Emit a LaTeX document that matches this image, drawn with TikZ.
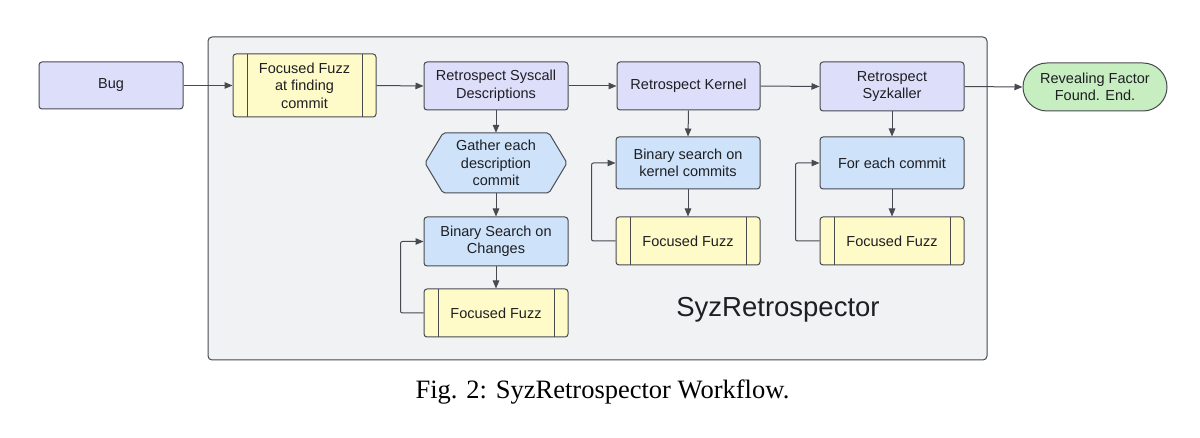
\documentclass[tikz,border=0pt]{standalone}
\usepackage{fontspec}
\setmainfont{Liberation Serif}
\newfontfamily\sansf{Liberation Sans}
\usetikzlibrary{arrows.meta}
\definecolor{lav}{RGB}{221,222,250}
\definecolor{lblue}{RGB}{206,227,250}
\definecolor{lyel}{RGB}{255,251,200}
\definecolor{lgreen}{RGB}{199,238,192}
\definecolor{cont}{RGB}{241,242,244}
\definecolor{edge}{RGB}{72,74,82}
\definecolor{ink}{RGB}{30,30,35}
\tikzset{
  box/.style={draw=edge, line width=1pt, rounded corners=3pt, align=center, text=ink,
    font=\sansf\fontsize{14.5}{17.5}\selectfont, inner sep=2pt},
  lavbox/.style={box, fill=lav},
  bluebox/.style={box, fill=lblue},
  fuzzbox/.style={box, fill=lyel,
    path picture={
      \draw[edge, line width=1pt] ([xshift=14pt]path picture bounding box.north west) -- ([xshift=14pt]path picture bounding box.south west);
      \draw[edge, line width=1pt] ([xshift=-14pt]path picture bounding box.north east) -- ([xshift=-14pt]path picture bounding box.south east);
    }},
  hexnode/.style={align=center, text=ink, font=\sansf\fontsize{14.5}{17.5}\selectfont, inner sep=0pt},
  arr/.style={draw=edge, line width=1pt, -{Triangle[length=8pt,width=6.5pt]}, rounded corners=2pt},
}
\begin{document}
\begin{tikzpicture}[x=1pt,y=-1pt]
\useasboundingbox (0,0) rectangle (1200,438);
% container
\draw[edge, fill=cont, line width=1pt, rounded corners=4pt] (208,37) rectangle (987,360);
% hexagon shape
\filldraw[fill=lblue, draw=edge, line width=1pt, rounded corners=2pt] (425,163) -- (443,133) -- (549,133) -- (567,163) -- (549,193) -- (443,193) -- cycle;
% nodes
\node[lavbox, minimum width=144pt, minimum height=47pt] (bug) at (111,85.5) {Bug};
\node[fuzzbox, minimum width=143pt, minimum height=63pt] (ff1) at (304.5,85.5) {Focused Fuzz\\at finding\\commit};
\node[lavbox, minimum width=144pt, minimum height=48pt] (rsd) at (496,86) {Retrospect Syscall\\Descriptions};
\node[lavbox, minimum width=143pt, minimum height=48pt] (rk) at (688.5,86) {Retrospect Kernel};
\node[lavbox, minimum width=144pt, minimum height=49pt] (rsz) at (892,86.5) {Retrospect\\Syzkaller};
\node[box, fill=lgreen, rounded corners=24pt, minimum width=144pt, minimum height=48pt] (rev) at (1095,87) {Revealing Factor\\Found. End.};
\node[hexnode, minimum width=142pt, minimum height=60pt] (gather) at (496,163) {Gather each\\description\\commit};
\node[bluebox, minimum width=144pt, minimum height=49pt] (bsc) at (496,241.5) {Binary Search on\\Changes};
\node[fuzzbox, minimum width=144pt, minimum height=48pt] (ff2) at (496,313) {Focused Fuzz};
\node[bluebox, minimum width=144pt, minimum height=52pt] (bsk) at (688,163) {Binary search on\\kernel commits};
\node[fuzzbox, minimum width=144pt, minimum height=48pt] (ff3) at (688,241) {Focused Fuzz};
\node[bluebox, minimum width=144pt, minimum height=52pt] (fec) at (892,163) {For each commit};
\node[fuzzbox, minimum width=144pt, minimum height=48pt] (ff4) at (892,241) {Focused Fuzz};
\node[font=\sansf\fontsize{27.5}{30}\selectfont, text=ink, anchor=base, inner sep=0pt] (title) at (778,317) {SyzRetrospector};
\node[font=\fontsize{26.5}{30}\selectfont, text=black, anchor=base, inner sep=0pt] (cap) at (602.5,399) {Fig. 2: SyzRetrospector Workflow.};
% connectors
\draw[arr] (bug.east) -- (ff1.west);
\draw[arr] (ff1.east) -- (rsd.west);
\draw[arr] (rsd.east) -- (rk.west);
\draw[arr] (rk.east) -- (rsz.west);
\draw[arr] (rsz.east) -- (rev.west);
\draw[arr] (rsd.south) -- (gather.north);
\draw[arr] (gather.south) -- (bsc.north);
\draw[arr] (bsc.south) -- (ff2.north);
\draw[arr] (rk.south) -- (bsk.north);
\draw[arr] (bsk.south) -- (ff3.north);
\draw[arr] (rsz.south) -- (fec.north);
\draw[arr] (fec.south) -- (ff4.north);
\draw[arr] (ff2.west) -- ++(-23,0) |- (bsc.west);
\draw[arr] (ff3.west) -- ++(-24,0) |- (bsk.west);
\draw[arr] (ff4.west) -- ++(-24,0) |- (fec.west);
\end{tikzpicture}
\end{document}
